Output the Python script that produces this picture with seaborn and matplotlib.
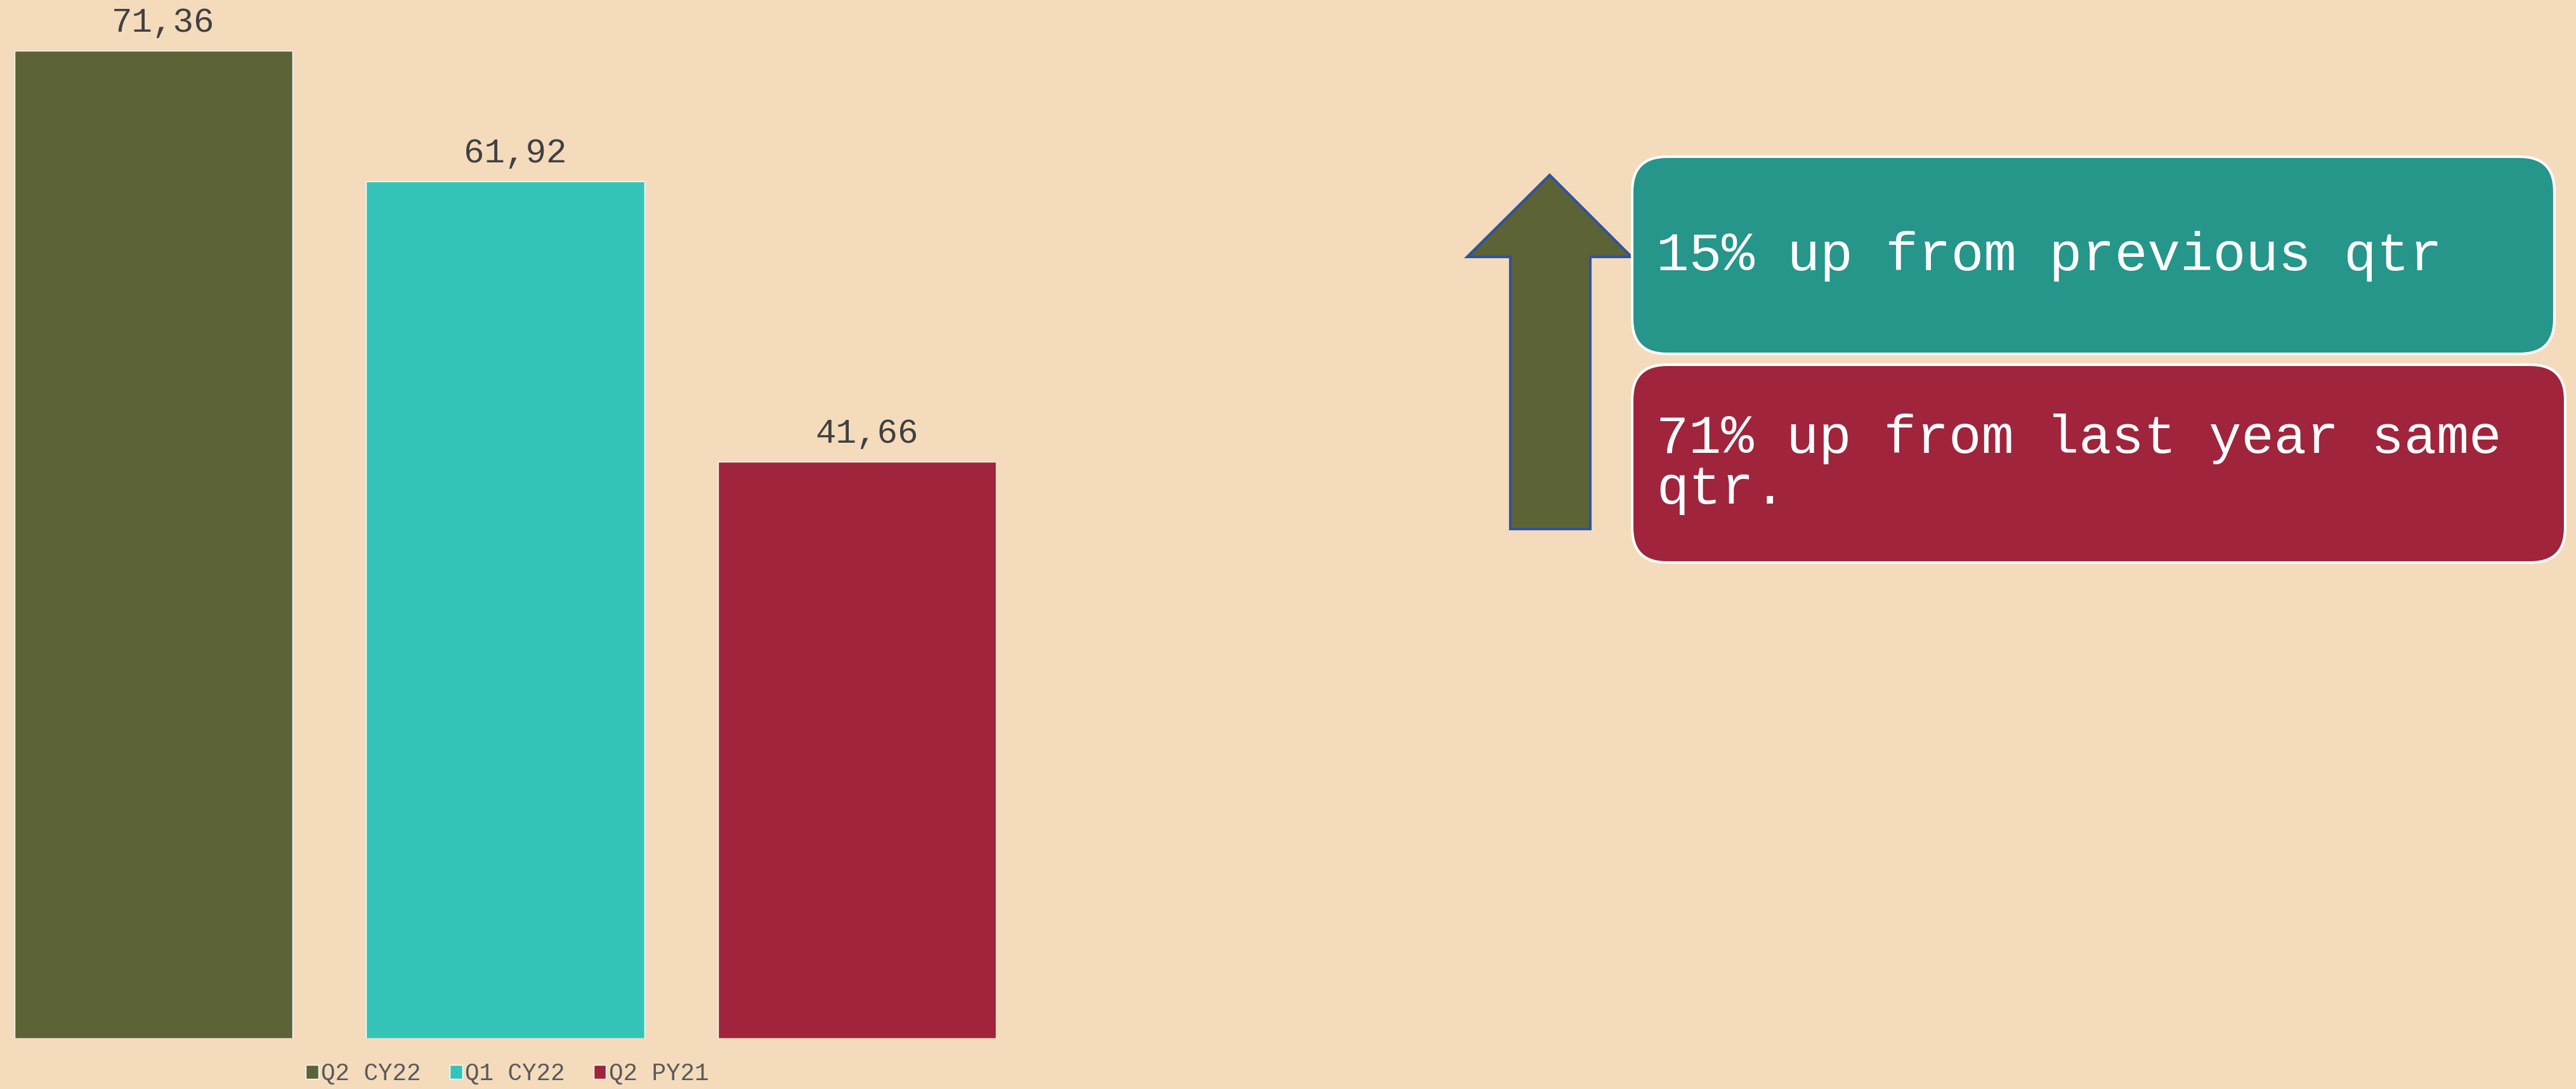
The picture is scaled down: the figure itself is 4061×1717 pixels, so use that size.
import matplotlib
matplotlib.use("Agg")
import matplotlib.pyplot as plt
import seaborn as sns
import pandas as pd
from matplotlib.patches import FancyBboxPatch, Polygon

# Data
quarters = ["Q2 CY22", "Q1 CY22", "Q2 PY21"]
values = [71.36, 61.92, 41.66]
bar_colors = ["#5c6337", "#35c4b8", "#a0243b"]
notes = ["15% up from previous qtr", "71% up from last year same\nqtr."]
note_colors = ["#26958a", "#a0243b"]

bg = "#f3dbbc"
W, H = 4062, 1717

sns.set_theme(style="white")
plt.rcParams["font.family"] = ["Liberation Mono", "DejaVu Sans Mono"]

df = pd.DataFrame({"quarter": quarters, "value": values})

fig = plt.figure(figsize=(W / 100, H / 100), dpi=100, facecolor=bg)

# bar axes
ax = fig.add_axes([23 / W, 80 / H, (1570 - 23) / W, (1637 - 80) / H])
ax.set_facecolor(bg)
sns.barplot(
    data=df, x="quarter", y="value", hue="quarter",
    palette=bar_colors, width=0.79, saturation=1, legend=True, ax=ax
)
ax.set_xlim(-0.395, 2.395)
ax.set_ylim(0, max(values))
for spine in ax.spines.values():
    spine.set_visible(False)
ax.set_xticks([])
ax.set_yticks([])
ax.set_xlabel("")
ax.set_ylabel("")

# value labels (slightly right of centre, like the original)
for cont, v in zip(ax.containers, values):
    for bar in cont:
        ax.annotate(
            f"{v:.2f}".replace(".", ","),
            (bar.get_x() + bar.get_width() / 2, bar.get_height()),
            xytext=(11, 14), textcoords="offset points",
            ha="center", va="bottom", fontsize=39, color="#404040",
            annotation_clip=False
        )

sns.move_legend(
    ax, "center", bbox_to_anchor=(0.502, -0.036), ncol=3, frameon=False,
    title=None, fontsize=27, handlelength=0.53, handleheight=0.53,
    handletextpad=0.12, columnspacing=1.2, labelcolor="#595959"
)

# overlay in pixel coordinates for the callouts
ov = fig.add_axes([0, 0, 1, 1])
ov.set_xlim(0, W)
ov.set_ylim(H, 0)
ov.axis("off")
ov.patch.set_alpha(0)

arrow = Polygon(
    [(2443, 276), (2572, 405), (2507, 405), (2507, 834),
     (2381, 834), (2381, 405), (2313, 405)],
    closed=True, facecolor="#5c6337", edgecolor="#2f52a0", linewidth=3
)
ov.add_patch(arrow)

boxes = [(2573, 247, 4027, 558), (2573, 575, 4044, 887)]
for (x0, y0, x1, y1), c in zip(boxes, note_colors):
    ov.add_patch(FancyBboxPatch(
        (x0, y0), x1 - x0, y1 - y0,
        boxstyle="round,pad=0,rounding_size=55",
        facecolor=c, edgecolor="white", linewidth=3
    ))

ov.text(2611, 426, notes[0], fontsize=62, color="white", va="baseline", ha="left")
ov.text(2611, 794, notes[1], fontsize=61.5, color="white", va="baseline",
        ha="left", linespacing=1.0)

fig.savefig("out.png", dpi=100, facecolor=bg)
